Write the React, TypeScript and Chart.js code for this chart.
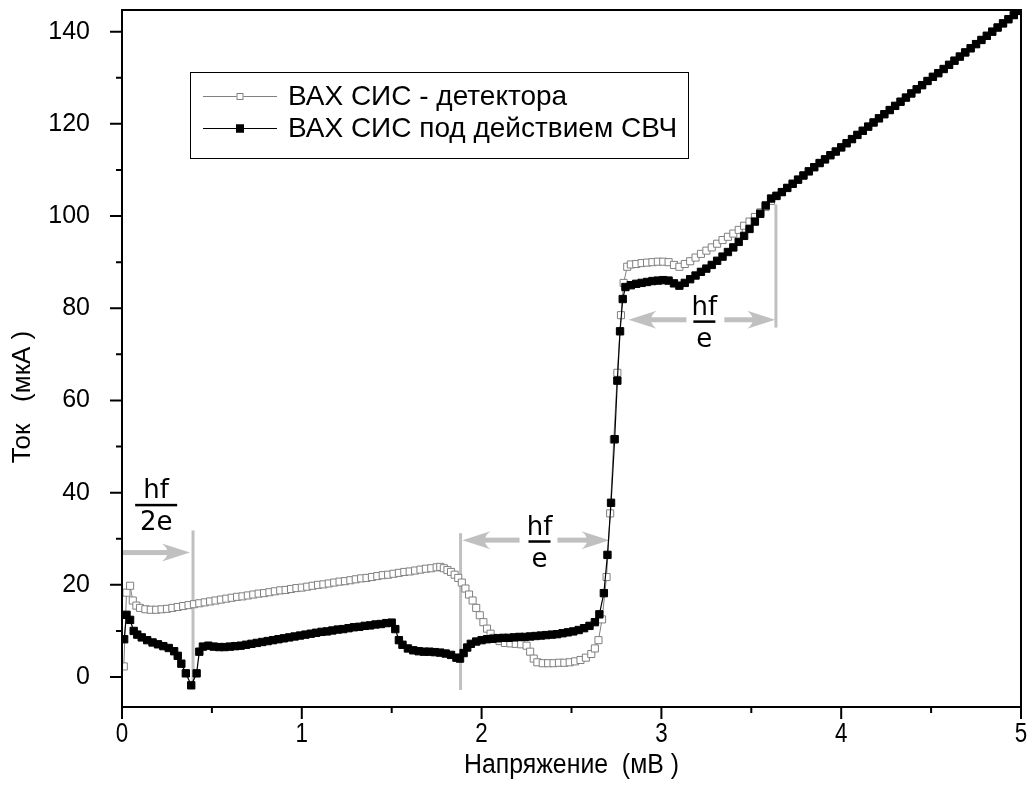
import React, { useEffect, useRef } from 'react';
import { Chart, registerables } from 'chart.js';

Chart.register(...registerables);

// ---- Data (voltage in mV, current in µA) ----
const detectorV = [
  0.01, 0.025, 0.045, 0.06, 0.08,
  0.10, 0.13, 0.16, 0.19, 0.22, 0.25, 0.28, 0.31, 0.34, 0.37,
  0.40, 0.43, 0.46, 0.49, 0.52, 0.55, 0.58, 0.61, 0.64, 0.67,
  0.70, 0.73, 0.76, 0.79, 0.82, 0.85, 0.88, 0.91, 0.94, 0.97,
  1.00, 1.03, 1.06, 1.09, 1.12, 1.15, 1.18, 1.21, 1.24, 1.27,
  1.30, 1.33, 1.36, 1.39, 1.42, 1.45, 1.48, 1.51, 1.54, 1.57,
  1.60, 1.63, 1.66, 1.69, 1.72, 1.75,
  1.77, 1.79, 1.81, 1.83, 1.85, 1.87, 1.89, 1.91, 1.93, 1.95,
  1.97, 1.99, 2.01, 2.03, 2.05, 2.07,
  2.10, 2.13, 2.16, 2.19, 2.22, 2.25,
  2.27, 2.29, 2.31,
  2.34, 2.37, 2.40, 2.43, 2.46, 2.49, 2.52, 2.55, 2.58, 2.61,
  2.63, 2.65, 2.67,
  2.695, 2.715, 2.735, 2.755, 2.775, 2.79, 2.81,
  2.83, 2.86, 2.89, 2.92, 2.95, 2.98, 3.01, 3.04, 3.07, 3.10,
  3.13, 3.16, 3.19, 3.22, 3.25, 3.28, 3.31, 3.34, 3.37, 3.40,
  3.43, 3.46, 3.49, 3.52, 3.55, 3.58, 3.61, 3.64,
];
const detectorI = [
  2.3, 18.3, 19.8, 16.6, 15.5,
  15.0, 14.7, 14.6, 14.6, 14.7, 14.8, 15.0, 15.2, 15.4, 15.6,
  15.8, 16.0, 16.2, 16.4, 16.6, 16.8, 17.0, 17.2, 17.4, 17.5,
  17.7, 17.9, 18.1, 18.2, 18.4, 18.6, 18.8, 18.9, 19.1, 19.3,
  19.4, 19.6, 19.8, 20.0, 20.1, 20.3, 20.5, 20.7, 20.8, 21.0,
  21.2, 21.4, 21.5, 21.7, 21.9, 22.1, 22.2, 22.4, 22.6, 22.8,
  22.9, 23.1, 23.3, 23.5, 23.6, 23.8,
  23.9, 23.6, 23.2, 22.8, 22.2, 21.5, 20.5, 19.2, 17.9, 16.6,
  15.0, 13.4, 11.9, 10.5, 9.4, 8.5,
  7.8, 7.4, 7.3, 7.2, 7.1, 6.8,
  5.5, 4.0, 3.2,
  3.0, 3.0, 3.0, 3.1, 3.1, 3.2, 3.4, 3.7, 4.2, 5.0,
  6.2, 8.0, 12.5,
  21.7, 35.5, 51.5, 66.0, 78.5, 85.5, 89.0,
  89.5, 89.6, 89.8, 89.9, 90.0, 90.1, 90.1, 90.0, 89.4, 89.0,
  89.6, 90.2, 91.0, 91.8, 92.5, 93.2, 94.0, 94.8, 95.5, 96.2,
  97.0, 97.9, 98.8, 99.8, 100.8, 102.0, 103.3, 104.3,
];

const pumpedV = [
  0.012, 0.025, 0.045, 0.065, 0.085, 0.11, 0.14, 0.17, 0.20, 0.23,
  0.26, 0.29, 0.31, 0.33, 0.355, 0.385, 0.415, 0.43, 0.45, 0.48,
  0.51, 0.54, 0.57, 0.60, 0.63, 0.66, 0.69, 0.72, 0.75, 0.78,
  0.81, 0.84, 0.87, 0.90, 0.93, 0.96, 0.99, 1.02, 1.05, 1.08,
  1.11, 1.14, 1.17, 1.20, 1.23, 1.26, 1.29, 1.32, 1.35, 1.38,
  1.41, 1.44, 1.47, 1.50, 1.52, 1.54, 1.56, 1.59, 1.62, 1.65,
  1.68, 1.71, 1.74, 1.77, 1.80, 1.83, 1.86, 1.88, 1.90, 1.92,
  1.94, 1.97, 2.00, 2.03, 2.06, 2.09, 2.12, 2.15, 2.18, 2.21,
  2.24, 2.27, 2.30, 2.33, 2.36, 2.39, 2.42, 2.45, 2.48, 2.51,
  2.54, 2.57, 2.60, 2.63, 2.655, 2.68, 2.70, 2.72, 2.74, 2.755,
  2.77, 2.785, 2.80, 2.83, 2.86, 2.89, 2.92, 2.95, 2.98, 3.01,
  3.04, 3.07, 3.10, 3.13, 3.16, 3.19, 3.22, 3.25, 3.28, 3.31,
  3.34, 3.37, 3.40, 3.43, 3.46, 3.49, 3.52, 3.55, 3.58, 3.61,
  3.64,
];
const pumpedI = [
  8.2, 13.5, 12.4, 10.0, 9.2, 8.6, 8.0, 7.5, 7.1, 6.7,
  6.3, 5.6, 4.6, 2.9, 0.8, -1.8, 0.8, 5.5, 6.6, 6.8,
  6.6, 6.5, 6.5, 6.6, 6.7, 6.8, 7.0, 7.2, 7.4, 7.6,
  7.8, 8.0, 8.2, 8.4, 8.6, 8.8, 9.0, 9.2, 9.4, 9.6,
  9.8, 9.9, 10.1, 10.3, 10.4, 10.6, 10.8, 10.9, 11.1, 11.2,
  11.4, 11.5, 11.7, 11.8, 10.4, 8.0, 7.0, 6.2, 5.8, 5.6,
  5.5, 5.5, 5.4, 5.3, 5.1, 4.8, 4.2, 4.0, 5.2, 6.4,
  7.2, 7.7, 8.0, 8.2, 8.3, 8.4, 8.5, 8.5, 8.6, 8.7,
  8.7, 8.8, 8.9, 9.0, 9.1, 9.2, 9.3, 9.5, 9.7, 9.9,
  10.2, 10.6, 11.1, 11.9, 13.6, 18.2, 26.5, 37.8, 51.6, 64.3,
  75.0, 82.0, 84.6, 85.0, 85.3, 85.5, 85.7, 85.9, 86.0, 86.1,
  86.0, 85.4, 84.9, 85.5, 86.3, 87.1, 87.9, 88.6, 89.4, 90.3,
  91.2, 92.2, 93.2, 94.4, 95.7, 97.2, 98.8, 100.5, 102.3, 103.8,
  104.4,
];

// common high-voltage branch of both curves
const sharedV = [
  3.67, 3.70, 3.73, 3.76, 3.79, 3.82, 3.85, 3.88, 3.91, 3.94,
  3.97, 4.00, 4.03, 4.06, 4.09, 4.12, 4.15, 4.18, 4.21, 4.24,
  4.27, 4.30, 4.33, 4.36, 4.39, 4.42, 4.45, 4.48, 4.51, 4.54,
  4.57, 4.60, 4.63, 4.66, 4.69, 4.72, 4.75, 4.78, 4.81, 4.84,
  4.87, 4.90, 4.93, 4.96, 4.99,
];
const sharedI = [
  105.2, 106.1, 107.0, 107.9, 108.8, 109.7, 110.6, 111.5, 112.3, 113.2,
  114.0, 114.9, 115.8, 116.7, 117.6, 118.5, 119.4, 120.3, 121.2, 122.1,
  123.0, 123.9, 124.8, 125.7, 126.6, 127.5, 128.4, 129.3, 130.2, 131.0,
  131.9, 132.8, 133.7, 134.6, 135.5, 136.4, 137.3, 138.2, 139.1, 140.0,
  140.9, 141.8, 142.7, 143.6, 144.5,
];

const seriesLabels = ['ВАХ СИС - детектора', 'ВАХ СИС под действием СВЧ'];
const xTicks = [0, 1, 2, 3, 4, 5];
const xMinorTicks = [0.5, 1.5, 2.5, 3.5, 4.5];
const yTicks = [0, 20, 40, 60, 80, 100, 120, 140];
const yMinorTicks = [10, 30, 50, 70, 90, 110, 130];
const xTitle = 'Напряжение  (мВ )';
const yTitle = 'Ток   (мкА )';

// annotation marks: [voltage, from current, to current]
const markerLines = [
  [0.395, -2.2, 31.8],
  [1.883, -2.8, 31.2],
  [3.637, 75.8, 102.5],
];
// arrows: [tail voltage, tip voltage, current]
const arrows = [
  [0, 0.378, 27.0],
  [2.211, 1.893, 29.7],
  [2.422, 2.711, 29.7],
  [3.139, 2.817, 77.5],
  [3.35, 3.633, 77.5],
];
// fractions: [numerator, denominator, centre voltage, bar current, bar width]
const fractions: [string, string, number, number, number][] = [
  ['hf', '2e', 0.19, 37.3, 42],
  ['hf', 'e', 2.322, 29.4, 22],
  ['hf', 'e', 3.239, 77.1, 22],
];

const GRAY = '#808080';
const ANN = '#c0c0c0';
const FONT = '"Liberation Sans", Arial, sans-serif';

function drawArrow(ctx: CanvasRenderingContext2D, x0: number, x1: number, y: number) {
  const dir = x1 > x0 ? 1 : -1;
  const L = 28;
  const H = 9;
  ctx.fillStyle = ANN;
  const shaftEnd = x1 - dir * L * 0.6;
  ctx.fillRect(Math.min(x0, shaftEnd), y - 2.5, Math.abs(shaftEnd - x0), 5);
  ctx.beginPath();
  ctx.moveTo(x1, y);
  ctx.lineTo(x1 - dir * L, y - H);
  ctx.quadraticCurveTo(x1 - dir * L * 0.6, y, x1 - dir * L, y + H);
  ctx.closePath();
  ctx.fill();
}

const decor = {
  id: 'decor',
  beforeDatasetsDraw(chart: any) {
    const { ctx } = chart;
    const xs = chart.scales.x;
    const ys = chart.scales.y;
    const px = (v: number) => xs.getPixelForValue(v);
    const py = (i: number) => ys.getPixelForValue(i);
    ctx.save();
    ctx.strokeStyle = ANN;
    ctx.lineWidth = 3;
    markerLines.forEach(([v, a, b]) => {
      ctx.beginPath();
      ctx.moveTo(px(v), py(a));
      ctx.lineTo(px(v), py(b));
      ctx.stroke();
    });
    arrows.forEach(([a, b, i]) => drawArrow(ctx, px(a), px(b), py(i)));
    ctx.fillStyle = '#000';
    ctx.font = '26px "DejaVu Sans", sans-serif';
    ctx.textAlign = 'center';
    ctx.textBaseline = 'alphabetic';
    fractions.forEach(([num, den, v, i, w]) => {
      const cx = px(v);
      const by = py(i);
      ctx.fillRect(cx - w / 2, by - 1.25, w, 2.5);
      ctx.fillText(num, cx, by - 7);
      ctx.fillText(den, cx, by + 25);
    });
    ctx.restore();
  },
  afterDatasetsDraw(chart: any) {
    const { ctx, chartArea } = chart;
    const { left, right, top, bottom } = chartArea;
    const xs = chart.scales.x;
    const ys = chart.scales.y;
    ctx.save();
    ctx.strokeStyle = '#000';
    ctx.lineWidth = 2;
    ctx.strokeRect(left, top, right - left, bottom - top);
    ctx.beginPath();
    xTicks.forEach((v) => { const p = xs.getPixelForValue(v); ctx.moveTo(p, bottom); ctx.lineTo(p, bottom + 12); });
    xMinorTicks.forEach((v) => { const p = xs.getPixelForValue(v); ctx.moveTo(p, bottom); ctx.lineTo(p, bottom + 6); });
    yTicks.forEach((v) => { const p = ys.getPixelForValue(v); ctx.moveTo(left, p); ctx.lineTo(left - 12, p); });
    yMinorTicks.forEach((v) => { const p = ys.getPixelForValue(v); ctx.moveTo(left, p); ctx.lineTo(left - 6, p); });
    ctx.stroke();

    // x tick labels (condensed, as in the original)
    ctx.fillStyle = '#000';
    ctx.font = '28px ' + FONT;
    ctx.textAlign = 'center';
    ctx.textBaseline = 'middle';
    xTicks.forEach((v) => {
      const p = xs.getPixelForValue(v);
      ctx.save();
      ctx.translate(p, 734);
      ctx.scale(0.8, 1);
      ctx.fillText(String(v), 0, 0);
      ctx.restore();
    });

    // axis titles
    ctx.font = '27px ' + FONT;
    ctx.save();
    ctx.translate((left + right) / 2, 766);
    ctx.scale(0.92, 1);
    ctx.fillText(xTitle, 0, 0);
    ctx.restore();
    ctx.font = '26px ' + FONT;
    ctx.save();
    ctx.translate(23, 397);
    ctx.rotate(-Math.PI / 2);
    ctx.fillText(yTitle, 0, 0);
    ctx.restore();

    // legend
    const bx = 190, byy = 72, bw = 498, bh = 86;
    ctx.fillStyle = '#fff';
    ctx.fillRect(bx, byy, bw, bh);
    ctx.lineWidth = 1;
    ctx.strokeStyle = '#000';
    ctx.strokeRect(bx + 0.5, byy + 0.5, bw, bh);
    const rows = [96, 128];
    chart.data.datasets.forEach((ds: any, k: number) => {
      const y = rows[k];
      ctx.strokeStyle = ds.borderColor;
      ctx.lineWidth = 1;
      ctx.beginPath();
      ctx.moveTo(203, y + 0.5);
      ctx.lineTo(277, y + 0.5);
      ctx.stroke();
      ctx.fillStyle = ds.pointBackgroundColor;
      ctx.strokeStyle = ds.pointBorderColor;
      const s = k === 0 ? 7 : 8;
      ctx.fillRect(240 - s / 2, y - s / 2 + 0.5, s, s);
      ctx.strokeRect(240 - s / 2 + 0.5, y - s / 2 + 1, s - 1, s - 1);
      ctx.fillStyle = '#000';
      ctx.font = '28px ' + FONT;
      ctx.textAlign = 'left';
      ctx.textBaseline = 'middle';
      ctx.fillText(ds.label, 288, y + 1);
    });
    ctx.restore();
  },
};

const noPad = (s: any) => {
  s.paddingTop = 0;
  s.paddingBottom = 0;
  s.paddingLeft = 0;
  s.paddingRight = 0;
};

export default function App() {
  const ref = useRef<HTMLCanvasElement>(null);
  useEffect(() => {
    const canvas = ref.current;
    if (!canvas) return;
    const toPts = (v: number[], i: number[]) => v.map((x, k) => ({ x, y: i[k] }));
    const detector = toPts(detectorV.concat(sharedV), detectorI.concat(sharedI));
    const pumped = toPts(pumpedV.concat(sharedV), pumpedI.concat(sharedI));
    const chart = new Chart(canvas, {
      type: 'scatter',
      data: {
        datasets: [
          {
            label: seriesLabels[0],
            data: detector,
            showLine: true,
            borderColor: GRAY,
            borderWidth: 1,
            pointStyle: 'rect',
            pointRadius: 5,
            pointBackgroundColor: '#fff',
            pointBorderColor: GRAY,
            pointBorderWidth: 1,
            order: 2,
          },
          {
            label: seriesLabels[1],
            data: pumped,
            showLine: true,
            borderColor: '#000',
            borderWidth: 1.2,
            pointStyle: 'rect',
            pointRadius: 5.2,
            pointBackgroundColor: '#000',
            pointBorderColor: '#000',
            pointBorderWidth: 1,
            order: 1,
          },
        ] as any,
      },
      options: {
        responsive: false,
        animation: false,
        events: [],
        layout: { padding: { top: 10, right: 10, left: 0, bottom: 0 } },
        plugins: { legend: { display: false }, tooltip: { enabled: false } },
        scales: {
          x: {
            type: 'linear',
            min: 0,
            max: 5,
            grid: { display: false },
            border: { display: false },
            ticks: { display: false },
            afterBuildTicks: (s: any) => { s.ticks = xTicks.map((v) => ({ value: v })); },
            afterFit: (s: any) => { s.height = 91; noPad(s); },
          },
          y: {
            type: 'linear',
            min: -6.5,
            max: 144.7,
            grid: { display: false },
            border: { display: false },
            ticks: { padding: 24, color: '#000', font: { family: FONT, size: 25 } },
            afterBuildTicks: (s: any) => { s.ticks = yTicks.map((v) => ({ value: v })); },
            afterFit: (s: any) => { s.width = 122; noPad(s); },
          },
        },
      } as any,
      plugins: [decor],
    });
    return () => chart.destroy();
  }, []);
  return (
    <div style={{ position: 'fixed', left: 0, top: 0, width: 1031, height: 798, background: '#fff' }}>
      <canvas ref={ref} width={1031} height={798} style={{ display: 'block' }} />
    </div>
  );
}
